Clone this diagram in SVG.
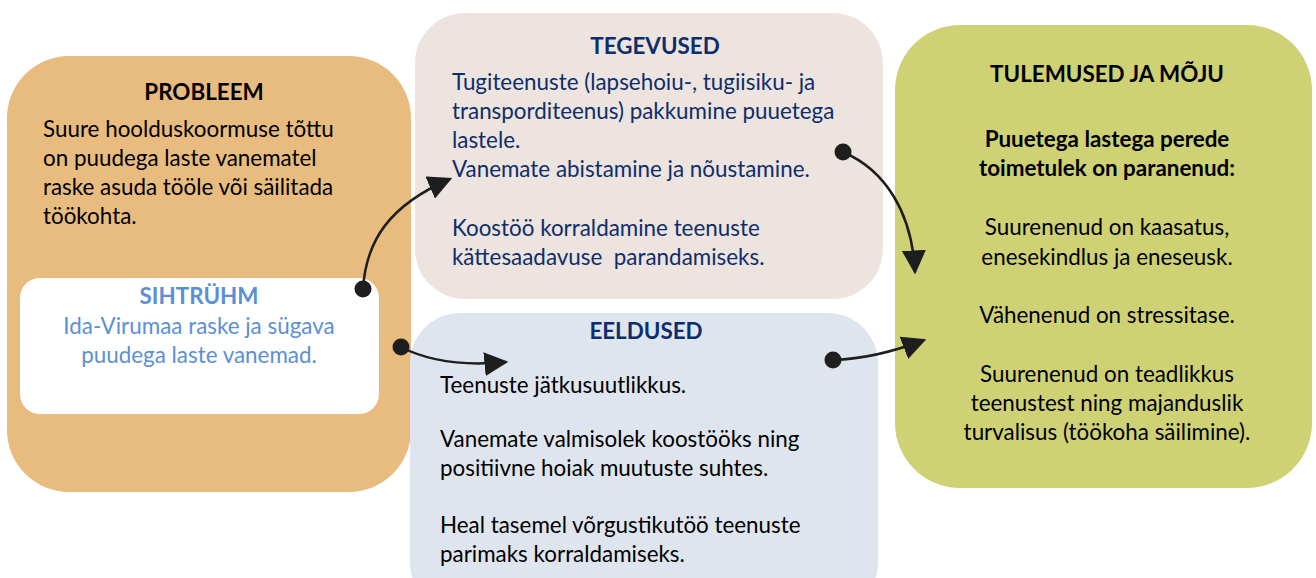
<svg xmlns="http://www.w3.org/2000/svg" width="1316" height="578" viewBox="0 0 1316 578">
<style>
text{font-family:Lato,"Open Sans","Liberation Sans",sans-serif;font-size:22.4px}
.b{font-weight:bold}
.c{text-anchor:middle}
.navy{fill:#0E2D6B}
.blk{fill:#000}
.blue{fill:#5B8FD6}
.con{fill:none;stroke:#1e1e1e;stroke-width:2.5}
.dot{fill:#1e1e1e}
</style>
<defs>
<marker id="ah" viewBox="0 0 10 10" refX="9" refY="5" markerWidth="24" markerHeight="24" markerUnits="userSpaceOnUse" orient="auto">
<path d="M0,0 L10,5 L0,10 Z" fill="#1e1e1e"/>
</marker>
</defs>
<rect width="1316" height="578" fill="#fff"/>
<g id="problem">
<rect x="7" y="56" width="404" height="436" rx="62" fill="#E8BC7F"/>
<text class="b c blk" x="204" y="100">PROBLEEM</text>
<text class="blk" x="43" y="137">Suure hoolduskoormuse tõttu</text>
<text class="blk" x="43" y="166">on puudega laste vanematel</text>
<text class="blk" x="43" y="195">raske asuda tööle või säilitada</text>
<text class="blk" x="43" y="224">töökohta.</text>
</g>
<g id="sihtruhm">
<rect x="20" y="278" width="359" height="136" rx="20" fill="#fff"/>
<text class="b c blue" x="199" y="304">SIHTRÜHM</text>
<text class="c blue" x="199" y="334">Ida-Virumaa raske ja sügava</text>
<text class="c blue" x="199" y="363">puudega laste vanemad.</text>
</g>
<g id="tegevused">
<rect x="415" y="13" width="468" height="286" rx="50" fill="#EDE4DF"/>
<text class="b c navy" x="655" y="54">TEGEVUSED</text>
<text class="navy" x="452" y="90">Tugiteenuste (lapsehoiu-, tugiisiku- ja</text>
<text class="navy" x="452" y="119">transporditeenus) pakkumine puuetega</text>
<text class="navy" x="452" y="148">lastele.</text>
<text class="navy" x="452" y="177">Vanemate abistamine ja nõustamine.</text>
<text class="navy" x="452" y="236">Koostöö korraldamine teenuste</text>
<text class="navy" x="452" y="265" xml:space="preserve">kättesaadavuse  parandamiseks.</text>
</g>
<g id="eeldused">
<rect x="410" y="313" width="468" height="300" rx="50" fill="#DFE5EE"/>
<text class="b c navy" x="646" y="339">EELDUSED</text>
<text class="blk" x="440" y="393">Teenuste jätkusuutlikkus.</text>
<text class="blk" x="440" y="447">Vanemate valmisolek koostööks ning</text>
<text class="blk" x="440" y="476">positiivne hoiak muutuste suhtes.</text>
<text class="blk" x="440" y="533">Heal tasemel võrgustikutöö teenuste</text>
<text class="blk" x="440" y="562">parimaks korraldamiseks.</text>
</g>
<g id="tulemused">
<rect x="895" y="25" width="417" height="463" rx="65" fill="#CFD274"/>
<text class="b c blk" x="1107" y="82">TULEMUSED JA MÕJU</text>
<text class="b c blk" x="1107" y="147">Puuetega lastega perede</text>
<text class="b c blk" x="1107" y="176">toimetulek on paranenud:</text>
<text class="c blk" x="1107" y="235">Suurenenud on kaasatus,</text>
<text class="c blk" x="1107" y="265">enesekindlus ja eneseusk.</text>
<text class="c blk" x="1107" y="323">Vähenenud on stressitase.</text>
<text class="c blk" x="1107" y="382">Suurenenud on teadlikkus</text>
<text class="c blk" x="1107" y="411">teenustest ning majanduslik</text>
<text class="c blk" x="1107" y="440">turvalisus (töökoha säilimine).</text>
</g>
<g id="connectors">
<path class="con" d="M363,289 C366,240 390,205 450,179" marker-end="url(#ah)"/>
<circle class="dot" cx="363" cy="289" r="8.5"/>
<path class="con" d="M401,347 C430,362 465,366 506,362" marker-end="url(#ah)"/>
<circle class="dot" cx="401" cy="347" r="8.5"/>
<path class="con" d="M843,152 C885,170 912,212 915,272" marker-end="url(#ah)"/>
<circle class="dot" cx="843" cy="152" r="8.5"/>
<path class="con" d="M833,360 C862,359 893,352 924,340" marker-end="url(#ah)"/>
<circle class="dot" cx="833" cy="360" r="8.5"/>
</g>
</svg>
